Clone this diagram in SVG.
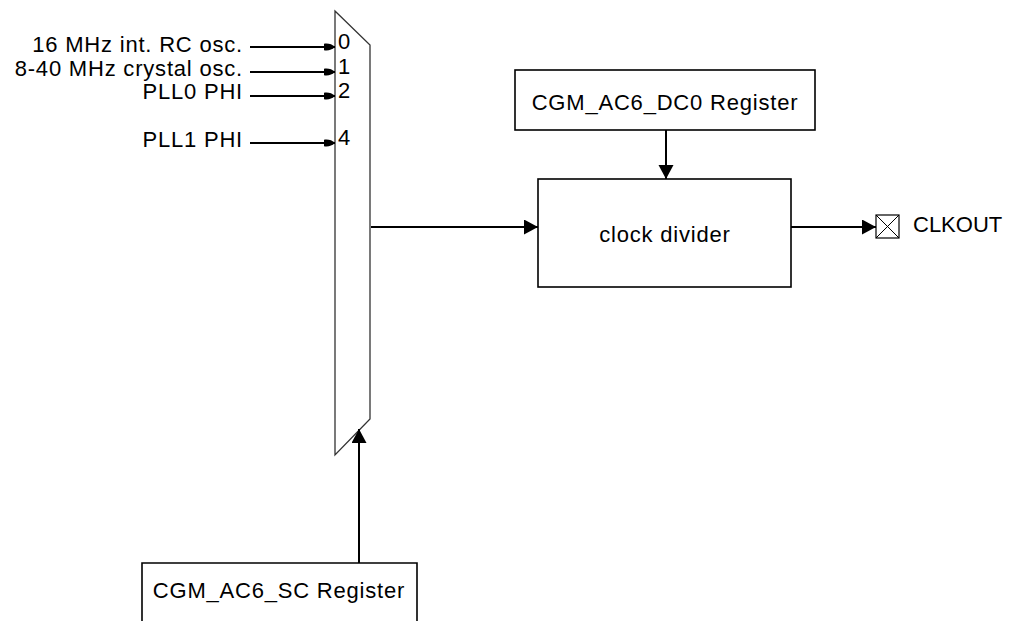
<svg xmlns="http://www.w3.org/2000/svg" width="1010" height="621" viewBox="0 0 1010 621">
<style>
text{font-family:"Liberation Sans",Arial,sans-serif;fill:#000}
.lbl{font-size:22px;letter-spacing:0.8px}
.num{font-size:22px}
.box{fill:#fff;stroke:#000;stroke-width:1.6}
.wire{fill:none;stroke:#000;stroke-width:2}
.mux{fill:#fff;stroke:#333;stroke-width:1.3}
</style>
<defs>
<marker id="tri" markerUnits="userSpaceOnUse" markerWidth="16" markerHeight="16" refX="14" refY="7.5" orient="auto">
<path d="M0,0 L14,7.5 L0,15 Z" fill="#000"/>
</marker>
<marker id="pin" markerUnits="userSpaceOnUse" markerWidth="13" markerHeight="9" refX="11" refY="4.5" orient="auto">
<path d="M0,1.3 C4,0.6 8,1.6 11,4.5 C8,7.4 4,8.4 0,7.7 Z" fill="#000"/>
</marker>
</defs>
<g id="mux">
<polygon class="mux" points="335,11 370,45 370,419 335,455"/>
<text class="num" x="338" y="49">0</text>
<text class="num" x="338" y="74">1</text>
<text class="num" x="338" y="98">2</text>
<text class="num" x="338" y="145">4</text>
</g>
<g id="inputs">
<text class="lbl" x="243" y="52" text-anchor="end">16 MHz int. RC osc.</text>
<text class="lbl" x="243" y="76" text-anchor="end">8-40 MHz crystal osc.</text>
<text class="lbl" x="243" y="99" text-anchor="end">PLL0 PHI</text>
<text class="lbl" x="243" y="147" text-anchor="end">PLL1 PHI</text>
</g>
<g id="dc0-register">
<rect class="box" x="515" y="70" width="300" height="60"/>
<text class="lbl" x="665" y="110" text-anchor="middle">CGM_AC6_DC0 Register</text>
</g>
<g id="clock-divider">
<rect class="box" x="538" y="179" width="253" height="108"/>
<text class="lbl" x="665" y="242" text-anchor="middle">clock divider</text>
</g>
<g id="sc-register">
<path class="box" d="M142,625 V563 H417 V625"/>
<text class="lbl" x="279" y="598" text-anchor="middle">CGM_AC6_SC Register</text>
</g>
<g id="clkout">
<rect x="876" y="215" width="23" height="23" fill="#fff" stroke="#000" stroke-width="1.2"/>
<path d="M876,215 L899,238 M899,215 L876,238" stroke="#000" stroke-width="1"/>
<text x="913" y="232" style="font-size:22px">CLKOUT</text>
</g>
<g id="connectors">
<line class="wire" x1="250" y1="47" x2="335" y2="47" marker-end="url(#pin)"/>
<line class="wire" x1="250" y1="72" x2="335" y2="72" marker-end="url(#pin)"/>
<line class="wire" x1="250" y1="96" x2="335" y2="96" marker-end="url(#pin)"/>
<line class="wire" x1="250" y1="143" x2="335" y2="143" marker-end="url(#pin)"/>
<line class="wire" x1="371" y1="227" x2="538" y2="227" marker-end="url(#tri)"/>
<line class="wire" x1="666" y1="130" x2="666" y2="179" marker-end="url(#tri)"/>
<line class="wire" x1="791" y1="227" x2="876" y2="227" marker-end="url(#tri)"/>
<line class="wire" x1="359" y1="563" x2="359" y2="429" marker-end="url(#tri)"/>
</g>
</svg>
